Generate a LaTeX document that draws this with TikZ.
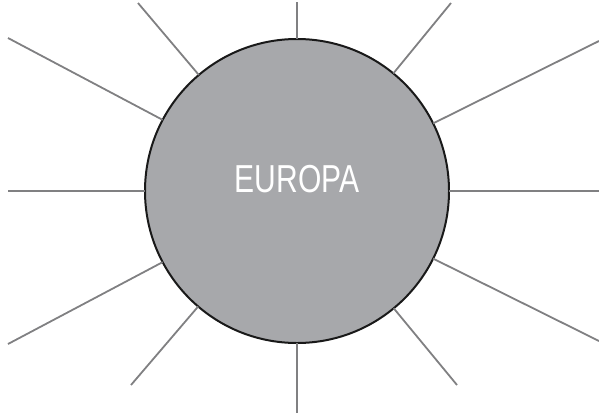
\documentclass[tikz,border=0pt]{standalone}
\usepackage{fontspec}
\setmainfont{Liberation Sans}[FakeStretch=0.77]
\usepackage{xcolor}
\definecolor{discgray}{RGB}{167,168,171}
\definecolor{raygray}{RGB}{128,128,130}
\tikzset{
  disc/.style={circle, draw=black!90, line width=2pt, fill=discgray, text=white,
    minimum size=304pt, inner sep=0pt, outer sep=0pt, text depth=24pt,
    font=\fontsize{39}{44}\selectfont},
  ray/.style={draw=raygray, line width=1.8pt}
}
\begin{document}
\begin{tikzpicture}[x=1pt,y=-1pt]
  \useasboundingbox (0,0) rectangle (599,418);
  % ends of the rays
  \coordinate (n) at (297,2);
  \coordinate (nne) at (451,3);
  \coordinate (ene) at (599,41);
  \coordinate (e) at (599,191);
  \coordinate (ese) at (599,341);
  \coordinate (sse) at (457,385);
  \coordinate (s) at (297,413);
  \coordinate (ssw) at (131,385);
  \coordinate (wsw) at (8,344);
  \coordinate (w) at (8,191);
  \coordinate (wnw) at (8,38);
  \coordinate (nnw) at (138,3);
  \node[disc] (europa) at (297,191) {EUROPA};
  \foreach \p in {n,nne,ene,e,ese,sse,s,ssw,wsw,w,wnw,nnw}
    \draw[ray] (europa) -- (\p);
\end{tikzpicture}
\end{document}
